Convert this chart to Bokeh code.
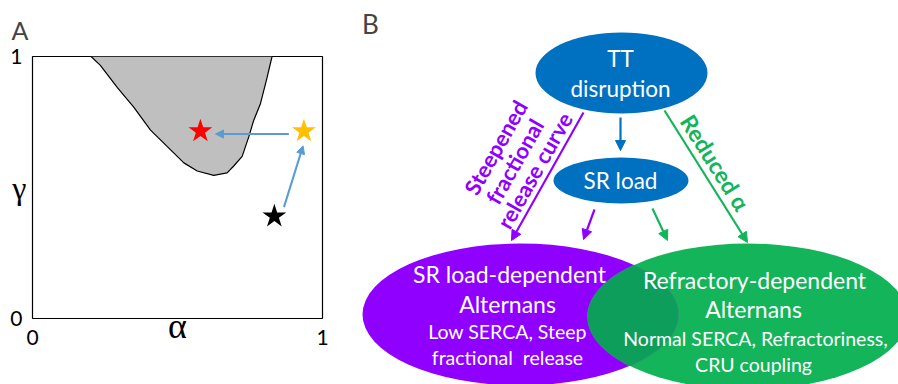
import numpy as np
from bokeh.plotting import figure
from bokeh.layouts import row
from bokeh.models import Range1d, FixedTicker, Arrow, NormalHead, Label
from bokeh.embed import file_html
from bokeh.resources import INLINE
from bokeh.core.properties import value

# ---------------- Panel A data ----------------
boundary_alpha = [0.202, 0.234, 0.292, 0.349, 0.407, 0.464, 0.522, 0.568, 0.625,
                  0.671, 0.694, 0.723, 0.746, 0.763, 0.786, 0.809, 0.826]
boundary_gamma = [1.0, 0.966, 0.882, 0.807, 0.719, 0.657, 0.594, 0.563, 0.546,
                  0.556, 0.582, 0.619, 0.694, 0.757, 0.82, 0.92, 1.0]
star_alpha = [0.579, 0.936, 0.834]
star_gamma = [0.715, 0.715, 0.39]
star_colors = ["#FF0000", "#FFC000", "#000000"]
arrow_alpha_start = [0.884, 0.867]
arrow_gamma_start = [0.704, 0.425]
arrow_alpha_end = [0.631, 0.933]
arrow_gamma_end = [0.704, 0.659]
tick_values = [0, 1]
tick_labels = {0: "0", 1: "1"}

# ---------------- Panel B data ----------------
node_x = [621, 620.5, 520, 747]
node_y = [72.5, 180, 314, 316]
node_w = [172, 135, 316, 320]
node_h = [81, 46, 142, 146]
node_colors = ["#0070C0", "#0070C0", "#9000FF", "#14B45A"]
overlap_color = "#0E9E5B"

node_text = ["TT", "disruption", "SR load"]
node_text_x = [620, 620, 620]
node_text_y = [58, 88, 180]

big_text = ["SR load-dependent", "Alternans", "Refractory-dependent", "Alternans"]
big_text_x = [509, 507, 754, 753]
big_text_y = [273, 303, 279, 308]

small_text = ["Low SERCA, Steep", "fractional\u00a0\u00a0release",
              "Normal SERCA, Refractoriness,", "CRU coupling"]
small_text_x = [507, 507, 755, 753]
small_text_y = [331, 357, 338, 364]

purple_label = ["Steepened", "fractional", "release curve"]
purple_label_x = [495, 514, 534]
purple_label_y = [147, 161, 170]
green_label = ["Reduced \u03b1"]
green_label_x = [715]
green_label_y = [162]

# arrows (start x, start y, end x, end y, color)
b_arrows = [
    (620, 117, 620, 150, "#0070C0"),
    (583, 112, 511, 240, "#9000FF"),
    (594, 209, 583, 239, "#9000FF"),
    (664, 110, 747, 242, "#14B45A"),
    (652, 208, 667, 240, "#14B45A"),
]

FONT = "Lato"

# ---------------- Panel A ----------------
pa = figure(width=340, height=384, x_range=Range1d(0, 1), y_range=Range1d(0, 1),
            output_backend="svg", toolbar_location=None, frame_align=False,
            min_border_left=32, min_border_right=18, min_border_top=52, min_border_bottom=66)
pa.grid.visible = False
pa.outline_line_color = "black"
pa.outline_line_width = 1.2
for ax in [pa.xaxis[0], pa.yaxis[0]]:
    ax.ticker = FixedTicker(ticks=tick_values)
    ax.major_label_overrides = tick_labels
    ax.major_tick_line_color = None
    ax.minor_tick_line_color = None
    ax.axis_line_color = None
    ax.major_label_text_font = FONT
    ax.major_label_text_font_size = "21px"
    ax.major_label_text_color = "black"
    ax.axis_label_text_font = "Liberation Serif"
    ax.axis_label_text_font_style = "normal"
    ax.axis_label_text_color = "black"
pa.xaxis.axis_label_text_font_size = "36px"
pa.yaxis.axis_label_text_font_size = "32px"
pa.xaxis.major_label_standoff = 5
pa.yaxis.major_label_standoff = 4
pa.xaxis.axis_label = "\u03b1"
pa.yaxis.axis_label = "\u03b3"
pa.yaxis.axis_label_orientation = "horizontal"
pa.xaxis.axis_label_standoff = -42
pa.yaxis.axis_label_standoff = -19

pa.title.text = "A"
pa.title.text_font = FONT
pa.title.text_font_size = "25px"
pa.title.text_font_style = "normal"
pa.title.offset = -21
pa.title.standoff = 24

pa.patch(boundary_alpha, boundary_gamma, fill_color="#BFBFBF", line_color=None)
pa.line(boundary_alpha, boundary_gamma, line_color="black", line_width=1.2)

for xs, ys, xe, ye in zip(arrow_alpha_start, arrow_gamma_start, arrow_alpha_end, arrow_gamma_end):
    pa.add_layout(Arrow(end=NormalHead(size=8, fill_color="#5B9BD5", line_color="#5B9BD5"),
                        x_start=xs, y_start=ys, x_end=xe, y_end=ye,
                        line_color="#5B9BD5", line_width=2))

pa.scatter(star_alpha, star_gamma, marker="star", size=25, fill_color=star_colors, line_color=None)

# ---------------- Panel B ----------------
pb = figure(width=558, height=384, x_range=Range1d(340, 898), y_range=Range1d(384, 0),
            output_backend="svg", toolbar_location=None, frame_align=False,
            min_border_left=0, min_border_right=0, min_border_top=0, min_border_bottom=0)
pb.axis.visible = False
pb.grid.visible = False
pb.outline_line_color = None

pb.ellipse(x=node_x, y=node_y, width=node_w, height=node_h, fill_color=node_colors, line_color=None)

# overlap of the two big ellipses (computed from their parameters)
def ell_pts(i, n=720):
    t = np.linspace(0, 2 * np.pi, n, endpoint=False)
    return node_x[i] + node_w[i] / 2 * np.cos(t), node_y[i] + node_h[i] / 2 * np.sin(t)

def inside(i, x, y):
    return ((x - node_x[i]) / (node_w[i] / 2)) ** 2 + ((y - node_y[i]) / (node_h[i] / 2)) ** 2 <= 1

px, py = ell_pts(2)
gx, gy = ell_pts(3)
mp = inside(3, px, py)
mg = inside(2, gx, gy)
ox = np.concatenate([px[mp], gx[mg]])
oy = np.concatenate([py[mp], gy[mg]])
cx, cy = ox.mean(), oy.mean()
order = np.argsort(np.arctan2(oy - cy, ox - cx))
pb.patch(ox[order], oy[order], fill_color=overlap_color, line_color="#3C8C78", line_width=0.8)

for xs, ys, xe, ye, c in b_arrows:
    pb.add_layout(Arrow(end=NormalHead(size=10, fill_color=c, line_color=c),
                        x_start=xs, y_start=ys, x_end=xe, y_end=ye, line_color=c, line_width=2.2))

pb.text(x=node_text_x, y=node_text_y, text=node_text, text_font=value(FONT), text_font_size="22.5px",
        text_color="white", text_align="center", text_baseline="middle")
pb.text(x=big_text_x, y=big_text_y, text=big_text, text_font=value(FONT), text_font_size="23px",
        text_color="white", text_align="center", text_baseline="middle")
pb.text(x=small_text_x, y=small_text_y, text=small_text, text_font=value(FONT), text_font_size="19.5px",
        text_color="white", text_align="center", text_baseline="middle")
pb.text(x=purple_label_x, y=purple_label_y, text=purple_label, angle=60.4, angle_units="deg",
        text_font=value(FONT), text_font_size="22px", text_font_style="bold",
        text_color="#9000FF", text_align="center", text_baseline="middle")
pb.text(x=green_label_x, y=green_label_y, text=green_label, angle=-57.8, angle_units="deg",
        text_font=value(FONT), text_font_size="23px", text_font_style="bold",
        text_color="#14B45A", text_align="center", text_baseline="middle")

pb.add_layout(Label(x=370, y=23, text="B", text_font=FONT, text_font_size="26px",
                    text_align="center", text_baseline="middle"))

layout = row(pa, pb, spacing=0)
open("out.html", "w").write(file_html(layout, INLINE))
